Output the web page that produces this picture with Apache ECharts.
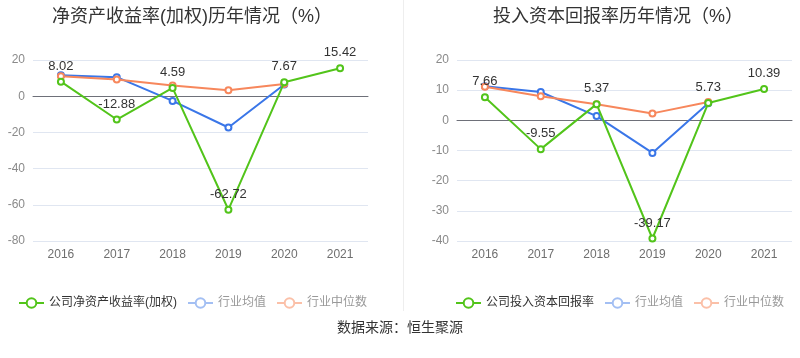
<!DOCTYPE html>
<html><head><meta charset="utf-8">
<script src="https://cdn.jsdelivr.net/npm/echarts@6/dist/echarts.min.js"></script>
<style>html,body{margin:0;padding:0;background:#fff}#c{width:800px;height:358px}</style>
</head><body><div id="c"></div>
<script>
const years = ['2016','2017','2018','2019','2020','2021'];
const roeCompany = [8.02, -12.88, 4.59, -62.72, 7.67, 15.42];
const roeMean = [11.6, 10.5, -2.6, -17.3, 6.5, null];
const roeMedian = [11.0, 9.2, 5.9, 3.3, 6.8, null];
const roicCompany = [7.66, -9.55, 5.37, -39.17, 5.73, 10.39];
const roicMean = [11.3, 9.4, 1.4, -10.8, 5.7, null];
const roicMedian = [11.1, 8.0, 5.3, 2.3, 6.1, null];
const leftTicks = [-80, -60, -40, -20, 0, 20];
const rightTicks = [-40, -30, -20, -10, 0, 10, 20];

const GREEN = '#52c41a', BLUE = '#3a76e8', ORANGE = '#f7875c';
const FONT = '"Liberation Sans", Arial, "Noto Sans CJK SC", sans-serif';

function yAxis(gi, ticks) {
  return {
    type: 'value', gridIndex: gi,
    min: ticks[0], max: ticks[ticks.length - 1], interval: ticks[1] - ticks[0],
    axisLine: { show: false }, axisTick: { show: false },
    axisLabel: { color: '#8a8a8a', fontSize: 12, fontFamily: FONT },
    splitLine: { lineStyle: { color: '#e0e6f1' } }
  };
}
function xAxis(gi) {
  return {
    type: 'category', gridIndex: gi, data: years, boundaryGap: true,
    axisLine: { onZero: true, lineStyle: { color: '#6e7079' } },
    axisTick: { alignWithLabel: true, lineStyle: { color: '#6e7079' } },
    axisLabel: { color: '#6e6e6e', fontSize: 12, fontFamily: FONT, margin: 8 },
    position: 'bottom'
  };
}
function lineSeries(name, data, color, gi, label) {
  return {
    name, type: 'line', data, xAxisIndex: gi, yAxisIndex: gi,
    symbol: 'emptyCircle', symbolSize: 6,
    itemStyle: { color }, lineStyle: { color, width: 2 },
    z: label ? 3 : 2,
    label: label ? { show: true, position: 'top', color: '#333', fontSize: 13, fontFamily: FONT } : { show: false }
  };
}
function legendData(first) {
  return [
    { name: first, textStyle: { color: '#333' } },
    { name: '行业均值', itemStyle: { color: '#a3bff3' }, lineStyle: { color: '#a3bff3' }, textStyle: { color: '#999' } },
    { name: '行业中位数', itemStyle: { color: '#fbc0a8' }, lineStyle: { color: '#fbc0a8' }, textStyle: { color: '#999' } }
  ];
}

const chart = echarts.init(document.getElementById('c'));
chart.setOption({
  animation: false,
  title: [
    { text: '净资产收益率(加权)历年情况（%）', left: 47, top: 3, textStyle: { fontSize: 18, fontWeight: 'normal', color: '#333', fontFamily: FONT } },
    { text: '投入资本回报率历年情况（%）', left: 488, top: 3, textStyle: { fontSize: 18, fontWeight: 'normal', color: '#333', fontFamily: FONT } },
    { text: '数据来源：恒生聚源', left: 'center', top: 316, textStyle: { fontSize: 14, fontWeight: 'normal', color: '#333', fontFamily: FONT } }
  ],
  legend: [
    { left: 13, top: 292, itemWidth: 25, itemHeight: 12, itemGap: 10, textStyle: { fontSize: 12, fontFamily: FONT }, data: legendData('公司净资产收益率(加权)'), selectedMode: false },
    { left: 450, top: 292, itemWidth: 25, itemHeight: 12, itemGap: 10, textStyle: { fontSize: 12, fontFamily: FONT }, data: legendData('公司投入资本回报率'), selectedMode: false }
  ],
  grid: [
    { left: 33, right: 432, top: 60, height: 181 },
    { left: 457, right: 8, top: 60, height: 181 }
  ],
  xAxis: [xAxis(0), xAxis(1)],
  yAxis: [yAxis(0, leftTicks), yAxis(1, rightTicks)],
  series: [
    lineSeries('行业均值', roeMean, BLUE, 0, false),
    lineSeries('行业中位数', roeMedian, ORANGE, 0, false),
    lineSeries('公司净资产收益率(加权)', roeCompany, GREEN, 0, true),
    lineSeries('行业均值', roicMean, BLUE, 1, false),
    lineSeries('行业中位数', roicMedian, ORANGE, 1, false),
    lineSeries('公司投入资本回报率', roicCompany, GREEN, 1, true)
  ],
  graphic: [
    { type: 'line', shape: { x1: 403.5, y1: 0, x2: 403.5, y2: 311 }, style: { stroke: '#eeeeee', lineWidth: 1 } }
  ]
});
</script></body></html>
